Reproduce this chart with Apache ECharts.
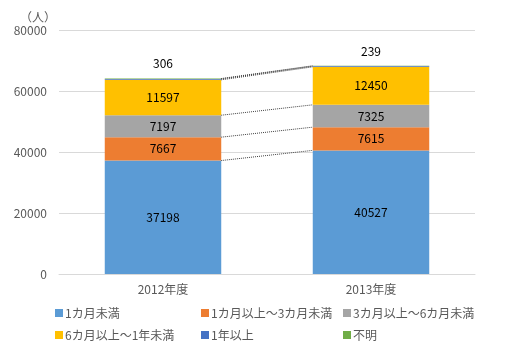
<!DOCTYPE html>
<html>
<head>
<meta charset="utf-8">
<script src="https://cdn.jsdelivr.net/npm/echarts@6/dist/echarts.min.js"></script>
<style>
  html, body { margin: 0; padding: 0; background: #fff; }
  #chart { width: 508px; height: 352px; }
</style>
</head>
<body>
<div id="chart"></div>
<script>
const years = ['2012年度', '2013年度']
const seriesNames = ['1カ月未満', '1カ月以上～3カ月未満', '3カ月以上～6カ月未満', '6カ月以上～1年未満', '1年以上', '不明']
const under1m = [37198, 40527]
const m1to3 = [7667, 7615]
const m3to6 = [7197, 7325]
const m6to1y = [11597, 12450]
const over1y = [306, 239]
const unknown = [120, 120]
const yTicks = [0, 20000, 40000, 60000, 80000]

const colors = ['#5B9BD5', '#ED7D31', '#A5A5A5', '#FFC000', '#4472C4', '#70AD47']
const FONT = '"Noto Sans CJK JP", "Noto Sans", sans-serif'
const BAR_RATIO = 0.56

const stackData = [under1m, m1to3, m3to6, m6to1y, over1y, unknown]

// cumulative tops of each series per year, for the dotted series lines
const cumTops = []
let run = [0, 0]
stackData.forEach(arr => {
  run = run.map((v, i) => v + arr[i])
  cumTops.push([run[0], run[1]])
})

const barSeries = stackData.map((arr, k) => {
  const s = {
    name: seriesNames[k],
    type: 'bar',
    stack: 'total',
    barWidth: (BAR_RATIO * 100) + '%',
    data: arr,
    itemStyle: { color: colors[k] },
    label: {
      show: k < 5,
      position: 'inside',
      color: '#000',
      fontSize: 12,
      fontFamily: FONT
    }
  }
  if (k === 4) {
    s.label.position = 'top'
    s.label.distance = 9
  }
  return s
})

const seriesLines = {
  type: 'custom',
  silent: true,
  z: 5,
  data: cumTops,
  renderItem(params, api) {
    const a = api.value(0)
    const b = api.value(1)
    const half = api.size([1, 0])[0] * BAR_RATIO / 2
    const p0 = api.coord([0, a])
    const p1 = api.coord([1, b])
    return {
      type: 'line',
      shape: { x1: p0[0] + half, y1: p0[1], x2: p1[0] - half, y2: p1[1] },
      style: { stroke: '#404040', lineWidth: 1, lineDash: [1, 1] }
    }
  }
}

const legendBase = {
  orient: 'vertical',
  top: 302,
  itemWidth: 8,
  itemHeight: 8,
  itemGap: 10,
  icon: 'rect',
  textStyle: { color: '#595959', fontSize: 12, fontFamily: FONT, padding: [0, 0, 0, -3] }
}

const chart = echarts.init(document.getElementById('chart'))
chart.setOption({
  animation: false,
  textStyle: { fontFamily: FONT },
  title: {
    text: '（人）',
    left: 15,
    top: 6,
    textStyle: { color: '#595959', fontSize: 12, fontWeight: 'normal', fontFamily: FONT }
  },
  legend: [
    Object.assign({ left: 50, data: [seriesNames[0], seriesNames[3]] }, legendBase),
    Object.assign({ left: 196, data: [seriesNames[1], seriesNames[4]] }, legendBase),
    Object.assign({ left: 338, data: [seriesNames[2], seriesNames[5]] }, legendBase)
  ],
  grid: { left: 59, right: 33, top: 30, bottom: 78 },
  xAxis: {
    type: 'category',
    data: years,
    axisLine: { lineStyle: { color: '#D9D9D9' } },
    axisTick: { show: false },
    axisLabel: { color: '#595959', fontSize: 12, margin: 9, fontFamily: FONT }
  },
  yAxis: {
    type: 'value',
    min: yTicks[0],
    max: yTicks[yTicks.length - 1],
    interval: yTicks[1] - yTicks[0],
    axisLine: { show: false },
    axisTick: { show: false },
    axisLabel: {
      color: '#595959',
      fontSize: 12,
      margin: 12,
      fontFamily: FONT,
      formatter: v => String(v)
    },
    splitLine: { lineStyle: { color: '#D9D9D9' } }
  },
  series: barSeries.concat([seriesLines])
})
</script>
</body>
</html>
